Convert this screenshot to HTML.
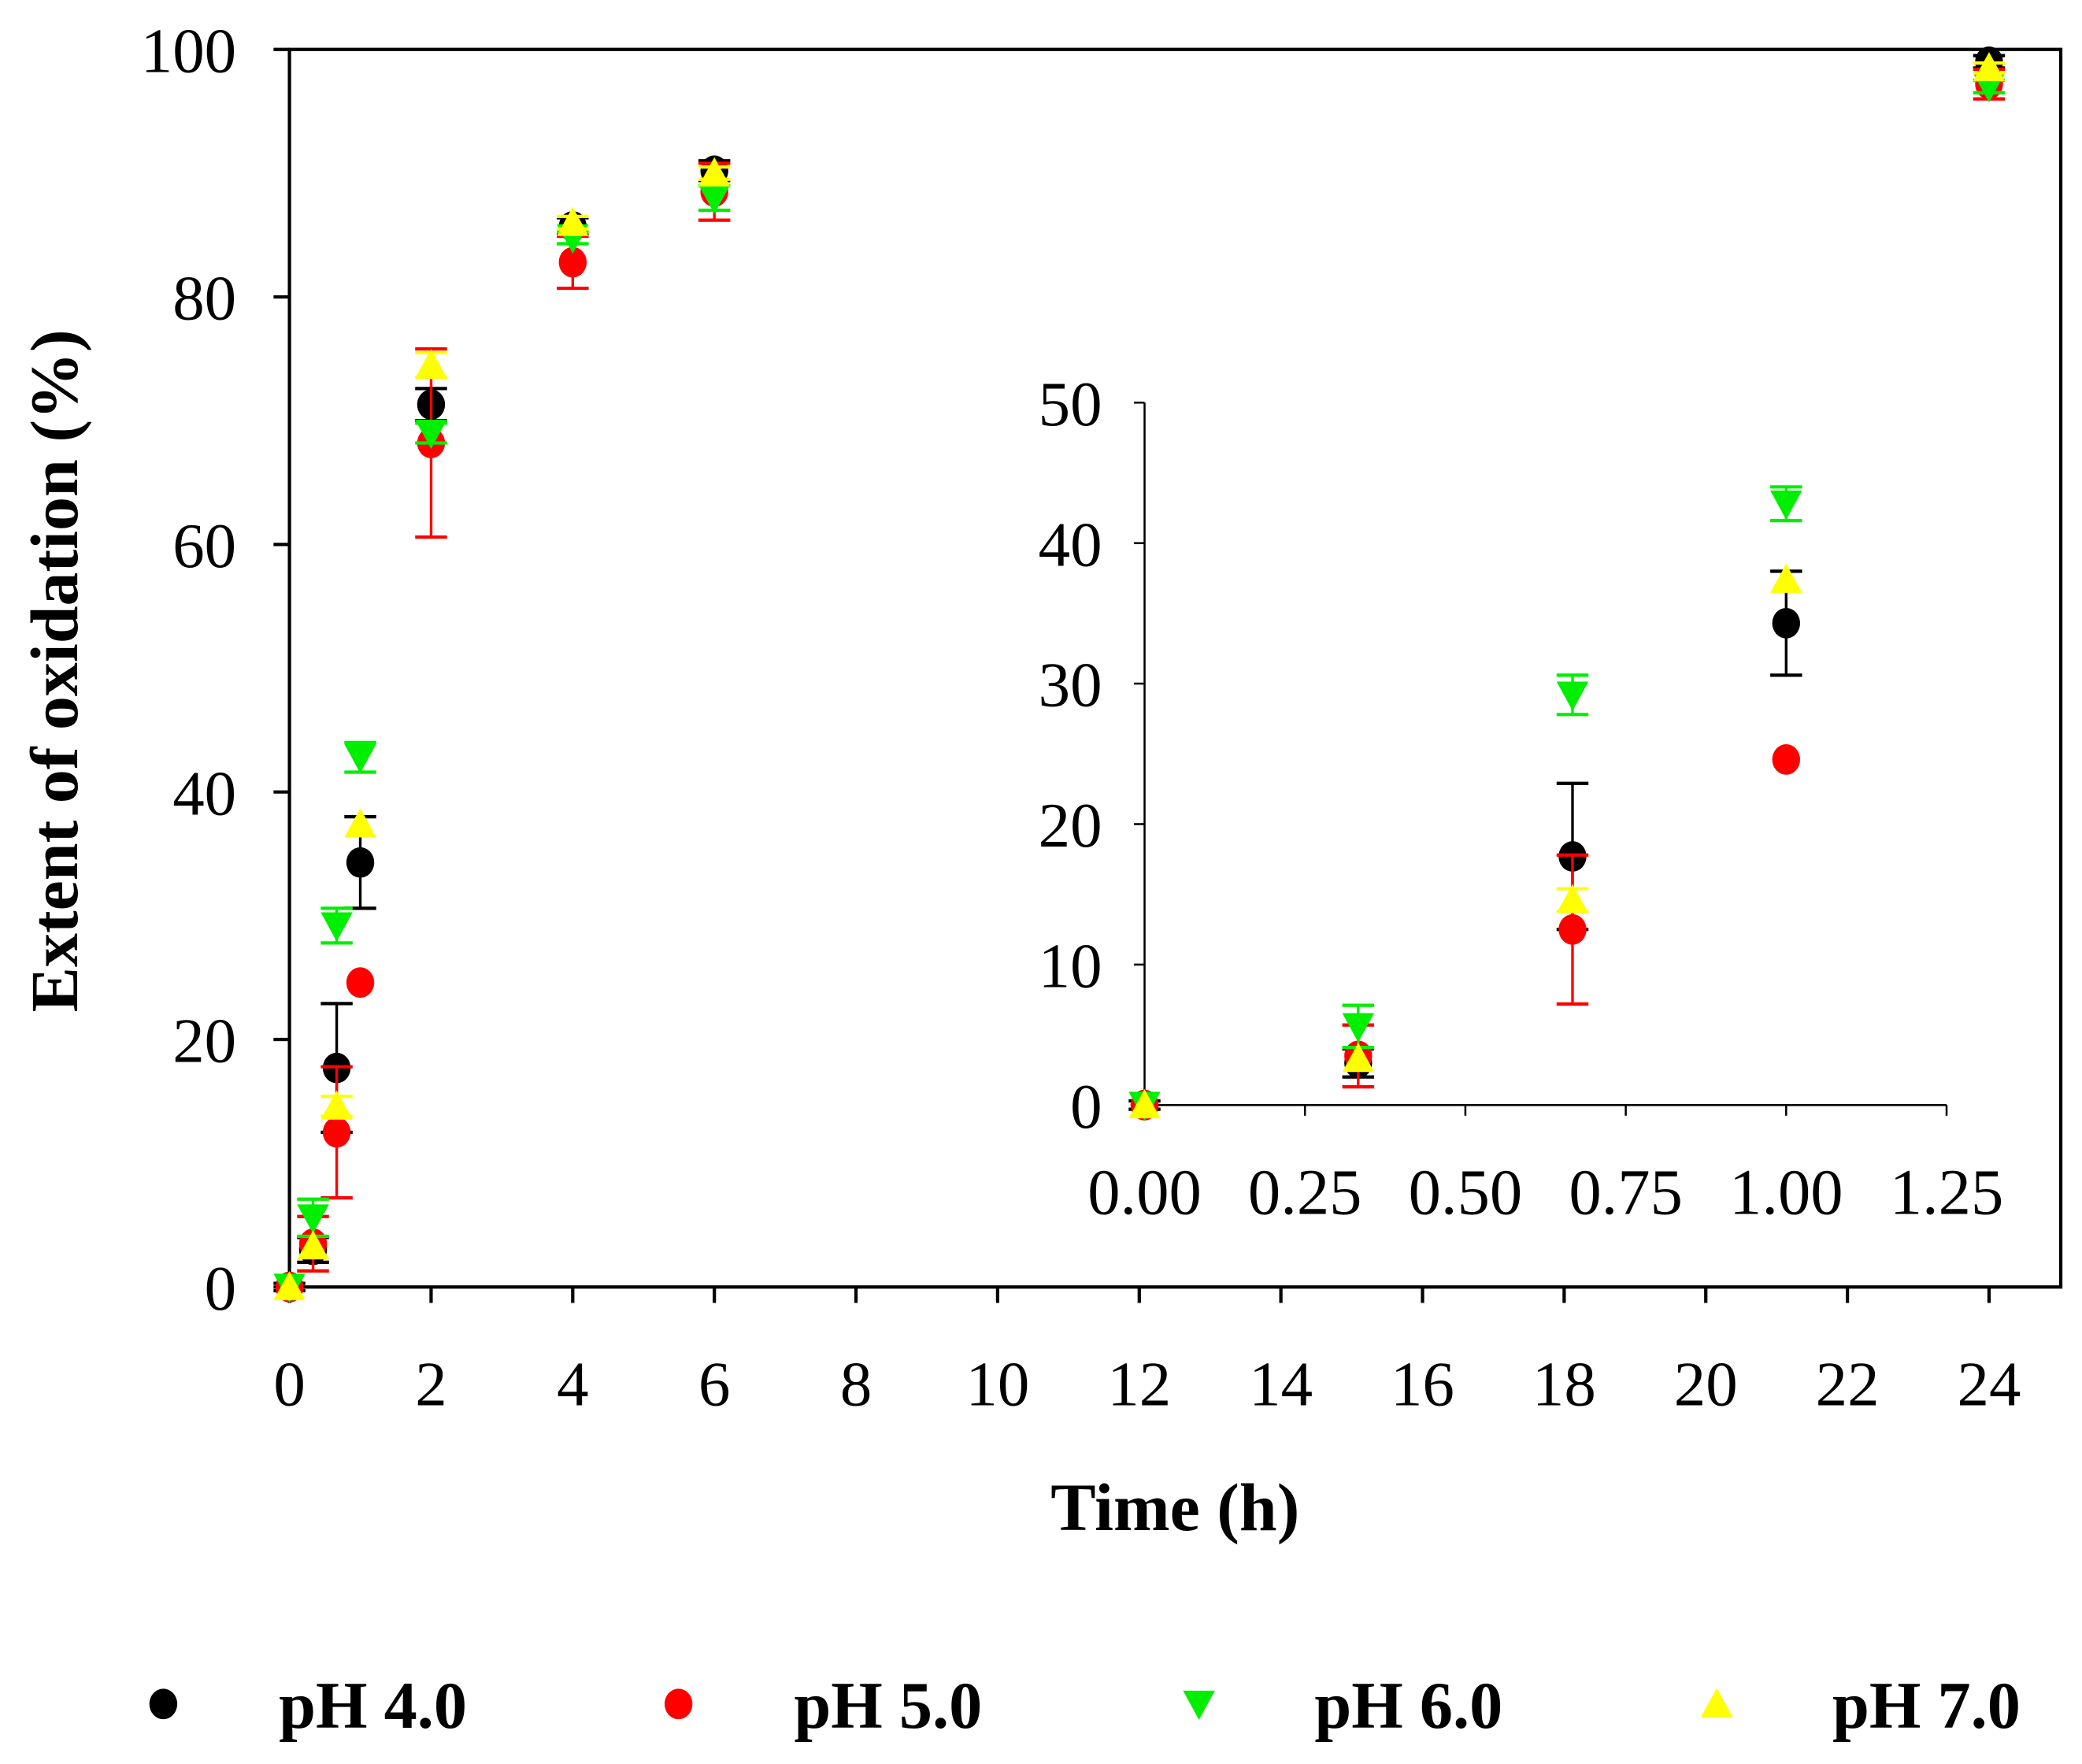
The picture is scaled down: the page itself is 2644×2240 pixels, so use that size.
<!DOCTYPE html>
<html><head><meta charset="utf-8"><style>html,body{margin:0;padding:0;background:#fff}svg{display:block}</style></head>
<body>
<svg id="chart" width="2644" height="2240" viewBox="0 0 1568 1328" xmlns="http://www.w3.org/2000/svg" font-family="'Liberation Serif', serif">
<rect width="1568" height="1328" fill="#fff"/>
<g id="main"></g><g id="inset"></g><g id="legend"></g>
</svg>
<script>
const times = [0, 0.333, 0.667, 1, 2, 4, 6, 24];
const ph4 = [0, 3.0, 17.7, 34.3, 71.3, 85.7, 90.2, 99.0];
const ph4Err = [0.3, 1.0, 5.2, 3.7, 1.3, 0.7, 0.8, 0.5];
const ph5 = [0, 3.5, 12.5, 24.6, 68.2, 82.8, 88.5, 97.2];
const ph5Err = [0, 2.2, 5.3, 0, 7.6, 2.1, 2.3, 1.2];
const ph6 = [0, 5.6, 29.2, 42.8, 69.0, 84.8, 88.0, 97.0];
const ph6Err = [0, 1.5, 1.4, 1.2, 0.8, 0.5, 1.0, 0.5];
const ph7 = [0, 3.3, 14.6, 37.4, 74.5, 86.0, 90.0, 98.5];
const ph7Err = [0, 0, 0.8, 0, 1.0, 0.5, 0.5, 0.4];
const xTicks = [0,2,4,6,8,10,12,14,16,18,20,22,24];
const yTicks = [0,20,40,60,80,100];
const insetXTicks = ["0.00","0.25","0.50","0.75","1.00","1.25"];
const insetYTicks = [0,10,20,30,40,50];
const seriesNames = ["pH 4.0","pH 5.0","pH 6.0","pH 7.0"];

const NS="http://www.w3.org/2000/svg";
function mk(parent,tag,attrs,text){const e=document.createElementNS(NS,tag);for(const k in attrs)e.setAttribute(k,attrs[k]);if(text!==undefined)e.textContent=text;parent.appendChild(e);return e;}
const series=[{v:ph4,e:ph4Err,c:"#000",m:"circle"},{v:ph5,e:ph5Err,c:"#ff0000",m:"circle"},{v:ph6,e:ph6Err,c:"#00ee00",m:"down"},{v:ph7,e:ph7Err,c:"#ffff00",m:"up"}];

function marker(g,m,x,y,c,name){
  let el;
  if(m==="circle"){el=mk(g,"ellipse",{cx:x,cy:y,rx:10.5,ry:11.5,fill:c});}
  else if(m==="down"){el=mk(g,"polygon",{points:`${x-12},${y-10} ${x+12},${y-10} ${x},${y+12}`,fill:c});}
  else {el=mk(g,"polygon",{points:`${x-12},${y+10} ${x+12},${y+10} ${x},${y-12}`,fill:c});}
  
  
}

function plot(g,sx,sy,maxT,prefix){
  series.forEach((s,si)=>{
    times.forEach((t,i)=>{
      if(t>maxT) return;
      const x=sx(t),y=sy(s.v[i]);
      if(s.e[i]>0){
        const y1=sy(s.v[i]+s.e[i]),y2=sy(s.v[i]-s.e[i]);
        mk(g,"line",{x1:x,y1:y1,x2:x,y2:y2,stroke:s.c,"stroke-width":2});
        mk(g,"line",{x1:x-12,y1:y1,x2:x+12,y2:y1,stroke:s.c,"stroke-width":2.5});
        mk(g,"line",{x1:x-12,y1:y2,x2:x+12,y2:y2,stroke:s.c,"stroke-width":2.5});
      }
      marker(g,s.m,x,y,s.c,prefix+'-point');
    });
  });
}

// main
const mg=document.getElementById('main');
const L=218,R=1552,T=37,B=969;
const sx=t=>L+t*(1498-L)/24, sy=v=>B-v*(B-T)/100;
const frame=mk(mg,"rect",{x:L,y:T,width:R-L,height:B-T,fill:"none",stroke:"#000","stroke-width":2.5});

xTicks.forEach(t=>{mk(mg,"line",{x1:sx(t),y1:B,x2:sx(t),y2:B+12,stroke:"#000","stroke-width":2.5});
  const tx=mk(mg,"text",{x:sx(t),y:1058,"font-size":48,"text-anchor":"middle"},String(t));
  });
yTicks.forEach(v=>{mk(mg,"line",{x1:L-12,y1:sy(v),x2:L,y2:sy(v),stroke:"#000","stroke-width":2.5});
  const tx=mk(mg,"text",{x:178,y:sy(v)+17,"font-size":48,"text-anchor":"end"},String(v));
  });
const xt=mk(mg,"text",{x:885,y:1152,"font-size":51,"font-weight":"bold","text-anchor":"middle"},"Time (h)");

const yt=mk(mg,"text",{x:0,y:0,"font-size":51,"font-weight":"bold","text-anchor":"middle",transform:"translate(58,505) rotate(-90)"},"Extent of oxidation (%)");

plot(mg,sx,sy,24,'main');

// inset
const ig=document.getElementById('inset');
const iL=862,iR=1466,iT=303,iB=832;
const isx=t=>iL+t*(iR-iL)/1.25, isy=v=>iB-v*(iB-iT)/50;
mk(ig,"line",{x1:iL,y1:iT,x2:iL,y2:iB,stroke:"#000","stroke-width":1.5});
mk(ig,"line",{x1:iL,y1:iB,x2:iR,y2:iB,stroke:"#000","stroke-width":1.5});
insetXTicks.forEach(lbl=>{const t=parseFloat(lbl);
  mk(ig,"line",{x1:isx(t),y1:iB,x2:isx(t),y2:iB+8,stroke:"#000","stroke-width":1.5});
  const tx=mk(ig,"text",{x:isx(t),y:914,"font-size":49,"text-anchor":"middle"},lbl);
  });
insetYTicks.forEach(v=>{mk(ig,"line",{x1:iL-8,y1:isy(v),x2:iL,y2:isy(v),stroke:"#000","stroke-width":1.5});
  const tx=mk(ig,"text",{x:830,y:isy(v)+17,"font-size":48,"text-anchor":"end"},String(v));
  });
plot(ig,isx,isy,1.25,'inset');

// legend
const lg=document.getElementById('legend');
const lx=[123,511,903,1293];
seriesNames.forEach((n,i)=>{
  const g=mk(lg,"g",{});
  
  
  marker(g,series[i].m,lx[i],1283,series[i].c,'legend-marker');
  mk(g,"text",{x:lx[i]+87,y:1301,"font-size":50,"font-weight":"bold"},n);
});
</script>
</body></html>
